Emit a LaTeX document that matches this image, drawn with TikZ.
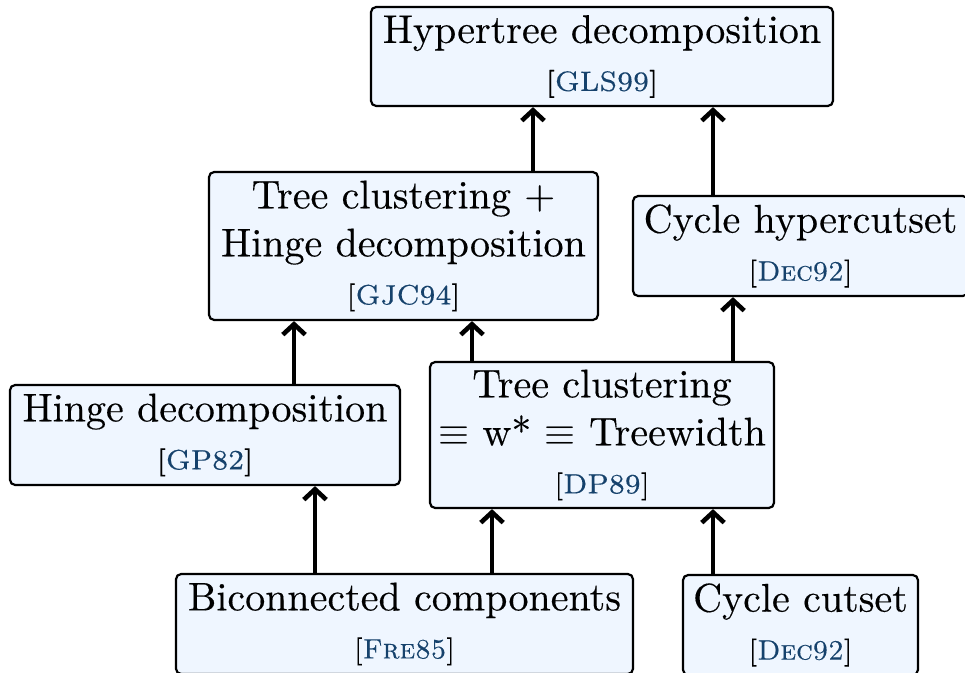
\documentclass[tikz,border=0pt]{standalone}
\usepackage{fontspec}
\setmainfont{lmroman10-regular.otf}[FakeBold=0.3,
  SmallCapsFont={lmromancaps10-regular.otf},
  SmallCapsFeatures={FakeBold=0.3},
  SizeFeatures={
    {Size={-8.5}, Font=lmroman7-regular.otf},
    {Size={8.5-}, Font=lmroman10-regular.otf}}]
\usetikzlibrary{arrows.meta}
\definecolor{citeblue}{RGB}{22,66,108}
\definecolor{boxfill}{RGB}{239,246,255}
\newcommand{\refcite}[1]{{\scriptsize[\textcolor{citeblue}{#1}]}}
\tikzset{
  box/.style={draw=black, line width=0.55pt, rounded corners=1.3pt, fill=boxfill,
    align=center, inner sep=0pt, font=\normalsize},
  arr/.style={line width=1.15pt, -{Straight Barb[length=2.6pt,width=5.6pt,line width=1.15pt]}}
}
\begin{document}
\begin{tikzpicture}[x=0.25pt,y=-0.25pt]
\useasboundingbox (0,0) rectangle (965,673);
\clip (0,0) rectangle (965,673);
\node[box, minimum width=115.5pt, minimum height=24.75pt] (hyper) at (602,56.5)
  {Hypertree decomposition\\\refcite{GLS99}};
\node[box, minimum width=97.25pt, minimum height=37pt] (tch) at (403.5,246)
  {Tree clustering +\\Hinge decomposition\\\refcite{GJC94}};
\node[box, minimum width=83.75pt, minimum height=25pt] (chc) at (800.5,246)
  {Cycle hypercutset\\\refcite{\textsc{Dec92}}};
\node[box, minimum width=97.5pt, minimum height=25pt] (hinge) at (205,435)
  {Hinge decomposition\\\refcite{GP82}};
\node[box, minimum width=86pt, minimum height=36.5pt] (tc) at (602,435)
  {Tree clustering\\$\equiv$ w* $\equiv$ Treewidth\\\refcite{DP89}};
\node[box, minimum width=114.25pt, minimum height=25pt] (bic) at (404.5,624)
  {Biconnected components\\\refcite{\textsc{Fre85}}};
\node[box, minimum width=58.75pt, minimum height=25pt] (cc) at (800.5,625)
  {Cycle cutset\\\refcite{\textsc{Dec92}}};
\draw[arr] ([xshift=32.375pt]tch.north) -- ([xshift=32.375pt]tch.north |- hyper.south);
\draw[arr] ([xshift=-21.875pt]chc.north) -- ([xshift=-21.875pt]chc.north |- hyper.south);
\draw[arr] ([xshift=22.25pt]hinge.north) -- ([xshift=22.25pt]hinge.north |- tch.south);
\draw[arr] ([xshift=-32.5pt]tc.north) -- ([xshift=-32.5pt]tc.north |- tch.south);
\draw[arr] ([xshift=32.75pt]tc.north) -- ([xshift=32.75pt]tc.north |- chc.south);
\draw[arr] ([xshift=-22.375pt]bic.north) -- ([xshift=-22.375pt]bic.north |- hinge.south);
\draw[arr] ([xshift=21.875pt]bic.north) -- ([xshift=21.875pt]bic.north |- tc.south);
\draw[arr] ([xshift=-21.875pt]cc.north) -- ([xshift=-21.875pt]cc.north |- tc.south);
\end{tikzpicture}
\end{document}
